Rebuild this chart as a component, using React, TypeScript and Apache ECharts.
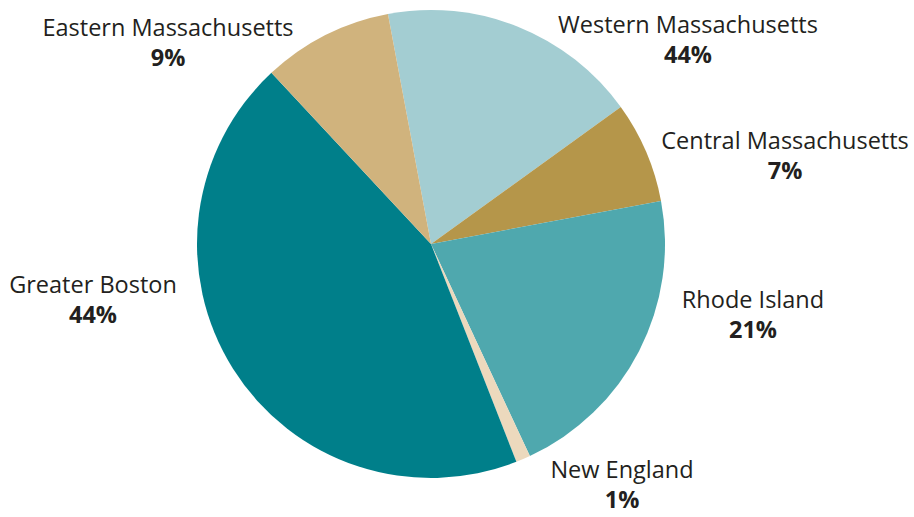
import React, { useEffect, useRef } from "react";
import * as echarts from "echarts";

const categories = [
  "Western Massachusetts",
  "Central Massachusetts",
  "Rhode Island",
  "New England",
  "Greater Boston",
  "Eastern Massachusetts",
];
const values = [18, 7, 21, 1, 44, 9];
const percentLabels = ["44%", "7%", "21%", "1%", "44%", "9%"];
const colors = ["#a3cdd2", "#b5964a", "#4fa8ae", "#ecd9bd", "#007f8a", "#d0b37d"];

// label anchor (center of the two-line label block), layout only
const labelAnchors: [number, number][] = [
  [688, 34],
  [785, 150],
  [753, 309],
  [622, 479],
  [93, 294],
  [168, 37],
];

export default function App() {
  const ref = useRef<HTMLDivElement>(null);
  useEffect(() => {
    const chart = echarts.init(ref.current!, null, { renderer: "svg" });
    chart.setOption({
      animation: false,
      backgroundColor: "#ffffff",
      series: [
        {
          type: "pie",
          center: [431, 244],
          radius: [0, 234],
          startAngle: 100.6,
          clockwise: true,
          avoidLabelOverlap: false,
          data: categories.map((name, i) => ({
            name,
            value: values[i],
            itemStyle: { color: colors[i] },
          })),
          label: {
            show: true,
            position: "outside",
            formatter: (p: any) => `{n|${p.name}}\n{p|${percentLabels[p.dataIndex]}}`,
            rich: {
              n: { fontFamily: "Open Sans", fontSize: 23.5, color: "#231f20", align: "center", lineHeight: 40 },
              p: { fontFamily: "Open Sans", fontSize: 23.5, fontWeight: "bold", color: "#231f20", align: "center", lineHeight: 20 },
            },
          },
          labelLine: { show: false, length: 20, length2: 10 },
          labelLayout: (params: any) => {
            const a = labelAnchors[params.dataIndex];
            return { x: a[0], y: a[1], align: "center", verticalAlign: "middle" };
          },
        },
      ],
    });
    return () => chart.dispose();
  }, []);
  return (
    <div
      ref={ref}
      style={{ position: "fixed", left: 0, top: 0, width: 914, height: 517 }}
    />
  );
}
